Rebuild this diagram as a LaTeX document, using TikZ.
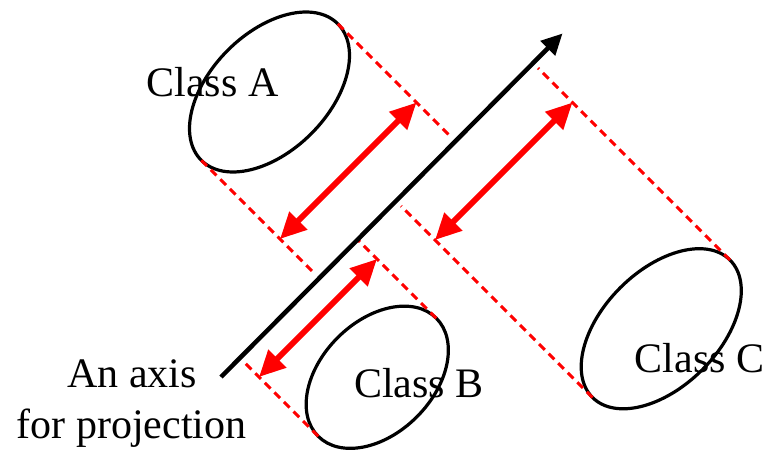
\documentclass[tikz,border=0pt]{standalone}
\usepackage{fontspec}
\setmainfont{Liberation Serif}
\usetikzlibrary{shapes.geometric,arrows.meta}
\begin{document}
\begin{tikzpicture}[x=1pt,y=-1pt,
 cls/.style={ellipse,draw=black,line width=3.2pt,inner sep=0pt,outer sep=0pt,rotate=45},
 proj/.style={draw=red,line width=3pt,dash pattern=on 8pt off 5.5pt},
 dist/.style={draw=red,line width=6pt,{Triangle[length=26pt,width=24pt]}-{Triangle[length=26pt,width=24pt]}},
 axisline/.style={draw=black,line width=4.5pt,-{Triangle[length=21pt,width=20pt]}},
 lbl/.style={font=\fontsize{42}{51}\selectfont,anchor=base,inner sep=0pt}]
\useasboundingbox (0,0) rectangle (769,452);

% labels
\node[lbl] (la) at (212.5,96) {Class A};
\node[lbl] (lb) at (419,397) {Class B};
\node[lbl] (lc) at (699.5,372) {Class C};
\node[lbl] (lx1) at (132,387) {An axis};
\node[lbl] (lx2) at (131.5,438) {for projection};

% classes
\node[cls,minimum width=193pt,minimum height=118pt] (A) at (269.5,92) {};
\node[cls,minimum width=167pt,minimum height=112pt] (B) at (377.25,377.25) {};
\node[cls,minimum width=194.4pt,minimum height=116pt] (C) at (661.25,328.75) {};

% ends of projection lines near the axis
\coordinate (Ae) at (450.5,136.5);
\coordinate (Aw) at (313,272);
\coordinate (Be) at (357.5,239.5);
\coordinate (Bw) at (243,361);
\coordinate (Ce) at (538,68);
\coordinate (Cw) at (401,206);

\path[proj] (A.east) -- (Ae);
\path[proj] (A.west) -- (Aw);
\path[proj] (B.east) -- (Be);
\path[proj] (B.west) -- (Bw);
\path[proj] (C.east) -- (Ce);
\path[proj] (C.west) -- (Cw);

% distance arrows
\coordinate (a1) at (416.5,102.5);
\coordinate (a2) at (280,239);
\coordinate (b1) at (377,259);
\coordinate (b2) at (259,377);
\coordinate (c1) at (572.5,102.5);
\coordinate (c2) at (435,240);
\path[dist] (a2) -- (a1);
\path[dist] (b2) -- (b1);
\path[dist] (c2) -- (c1);

% axis
\coordinate (ax0) at (221,377);
\coordinate (ax1) at (562.5,33.5);
\path[axisline] (ax0) -- (ax1);
\end{tikzpicture}
\end{document}
